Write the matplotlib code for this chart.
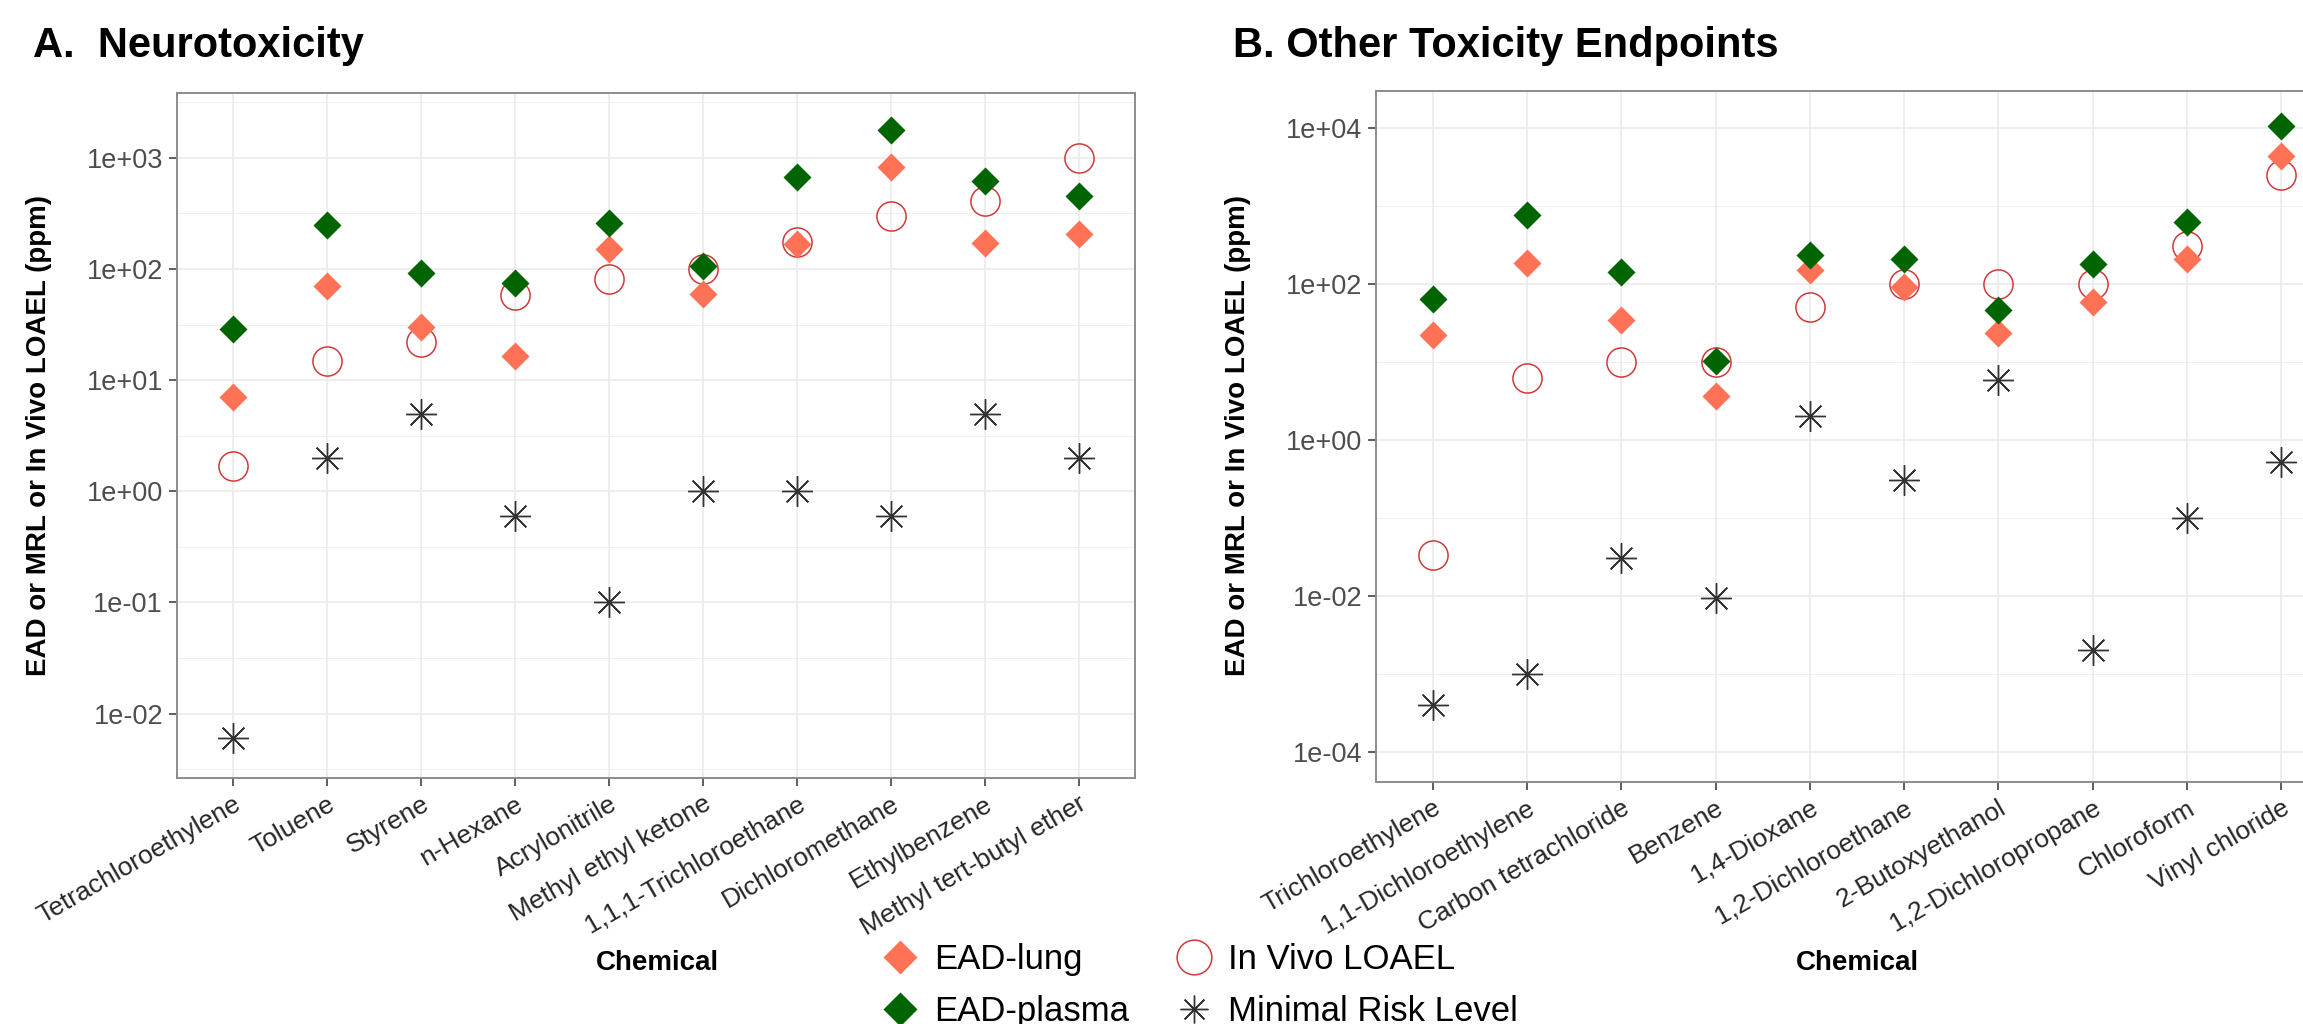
import numpy as np
import matplotlib
matplotlib.use("Agg")
import matplotlib.pyplot as plt
from matplotlib.lines import Line2D

plt.rcParams['font.family'] = ['Liberation Sans', 'DejaVu Sans']

# ---- data: panel A (neurotoxicity) ----
chem_a = ['Tetrachloroethylene', 'Toluene', 'Styrene', 'n-Hexane', 'Acrylonitrile',
          'Methyl ethyl ketone', '1,1,1-Trichloroethane', 'Dichloromethane',
          'Ethylbenzene', 'Methyl tert-butyl ether']
lung_a = [7.1, 71, 30, 16.5, 152, 60, 169, 834, 171, 205]
plasma_a = [29, 247, 92, 75, 260, 107, 676, 1780, 620, 450]
loael_a = [1.7, 15, 22, 58, 81, 100, 174, 302, 406, 1000]
mrl_a = [0.006, 2.0, 5.0, 0.6, 0.1, 1.0, 1.0, 0.6, 5.0, 2.0]

# ---- data: panel B (other endpoints) ----
chem_b = ['Trichloroethylene', '1,1-Dichloroethylene', 'Carbon tetrachloride', 'Benzene',
          '1,4-Dioxane', '1,2-Dichloroethane', '2-Butoxyethanol', '1,2-Dichloropropane',
          'Chloroform', 'Vinyl chloride']
lung_b = [22, 186, 34, 3.6, 148, 91, 23, 58, 205, 4370]
plasma_b = [63, 762, 141, 10.3, 232, 209, 46, 177, 619, 10500]
loael_b = [0.033, 6.2, 9.8, 9.8, 50, 100, 100, 100, 305, 2470]
mrl_b = [0.0004, 0.001, 0.03, 0.0094, 2.0, 0.30, 5.8, 0.002, 0.1, 0.51]

yticks_a = [1e-2, 1e-1, 1e0, 1e1, 1e2, 1e3]
ylabels_a = ['1e-02', '1e-01', '1e+00', '1e+01', '1e+02', '1e+03']
yticks_b = [1e-4, 1e-2, 1e0, 1e2, 1e4]
ylabels_b = ['1e-04', '1e-02', '1e+00', '1e+02', '1e+04']

c_lung = '#FF7256'
c_plasma = '#006400'
c_loael = '#D0393B'
c_mrl = '#333333'

W, H = 2303, 1024
fig = plt.figure(figsize=(W / 100, H / 100), dpi=100)


def px_axes(l, t, r, b):
    return fig.add_axes([l / W, 1 - b / H, (r - l) / W, (b - t) / H])


def draw_panel(ax, chems, lung, plasma, loael, mrl, ylim, yt, yl, minor):
    x = np.arange(len(chems))
    ax.set_yscale('log')
    ax.set_xlim(-0.6, len(chems) - 0.4)
    ax.set_ylim(*ylim)
    for v in minor:
        ax.axhline(v, color='#F0F0F0', lw=0.7, zorder=0)
    for v in yt:
        ax.axhline(v, color='#EBEBEB', lw=1.2, zorder=0)
    for xi in x:
        ax.axvline(xi, color='#EBEBEB', lw=1.2, zorder=0)
    ax.plot(x, mrl, ls='none', marker=(8, 2, 0), ms=22, mec=c_mrl, mew=1.0, zorder=3)
    ax.plot(x, loael, ls='none', marker='o', ms=21, mfc='none', mec=c_loael, mew=1.1, zorder=3)
    ax.plot(x, lung, ls='none', marker='D', ms=14, mfc=c_lung, mec='none', zorder=3)
    ax.plot(x, plasma, ls='none', marker='D', ms=14, mfc=c_plasma, mec='none', zorder=3)
    ax.set_xticks(x)
    ax.set_xticklabels(chems, rotation=30, ha='right', va='top', rotation_mode='anchor',
                       fontsize=19, color='#262626')
    ax.set_yticks(yt)
    ax.set_yticklabels(yl, fontsize=19.5, color='#4D4D4D')
    ax.yaxis.set_minor_locator(matplotlib.ticker.NullLocator())
    ax.tick_params(axis='both', length=6, width=1.1, color='#333333', pad=4)
    for s in ax.spines.values():
        s.set_color('#8C8C8C')
        s.set_linewidth(1.4)


ax_a = px_axes(177, 93, 1135, 778)
draw_panel(ax_a, chem_a, lung_a, plasma_a, loael_a, mrl_a,
           (10 ** -2.579, 10 ** 3.583), yticks_a, ylabels_a,
           [10 ** (k + 0.5) for k in range(-3, 4)])

ax_b = px_axes(1376, 91, 2338, 782)
draw_panel(ax_b, chem_b, lung_b, plasma_b, loael_b, mrl_b,
           (10 ** -4.39, 10 ** 4.47), yticks_b, ylabels_b,
           [10 ** k for k in (-5, -3, -1, 1, 3, 5)])

# titles and axis labels
fig.text(33 / W, 1 - 57 / H, 'A.  Neurotoxicity', fontsize=30, fontweight='bold',
         ha='left', va='baseline')
fig.text(1233 / W, 1 - 57 / H, 'B. Other Toxicity Endpoints', fontsize=30, fontweight='bold',
         ha='left', va='baseline')
for xc in (39, 1238):
    fig.text(xc / W, 1 - 436 / H, 'EAD or MRL or In Vivo LOAEL (ppm)', fontsize=20,
             fontweight='bold', rotation=90, ha='center', va='center')
for xc in (657, 1857):
    fig.text(xc / W, 1 - 963 / H, 'Chemical', fontsize=20, fontweight='bold',
             ha='center', va='center')

handles = [
    Line2D([], [], ls='none', marker='D', ms=17, mfc=c_lung, mec='none', label='EAD-lung'),
    Line2D([], [], ls='none', marker='D', ms=17, mfc=c_plasma, mec='none', label='EAD-plasma'),
    Line2D([], [], ls='none', marker='o', ms=25, mfc='none', mec=c_loael, mew=1.1, label='In Vivo LOAEL'),
    Line2D([], [], ls='none', marker=(8, 2, 0), ms=20, mec=c_mrl, mew=1.0, label='Minimal Risk Level'),
]
leg = fig.legend(handles=handles, ncol=2, loc='upper left',
                 bbox_to_anchor=(872 / W, 1 - 936 / H), frameon=True, fancybox=False,
                 facecolor='white', edgecolor='none', framealpha=1, fontsize=25,
                 handlelength=1.2, handletextpad=0.4, columnspacing=1.25,
                 labelspacing=0.55, borderpad=0.2, borderaxespad=0)

fig.savefig('out.png', dpi=100)
